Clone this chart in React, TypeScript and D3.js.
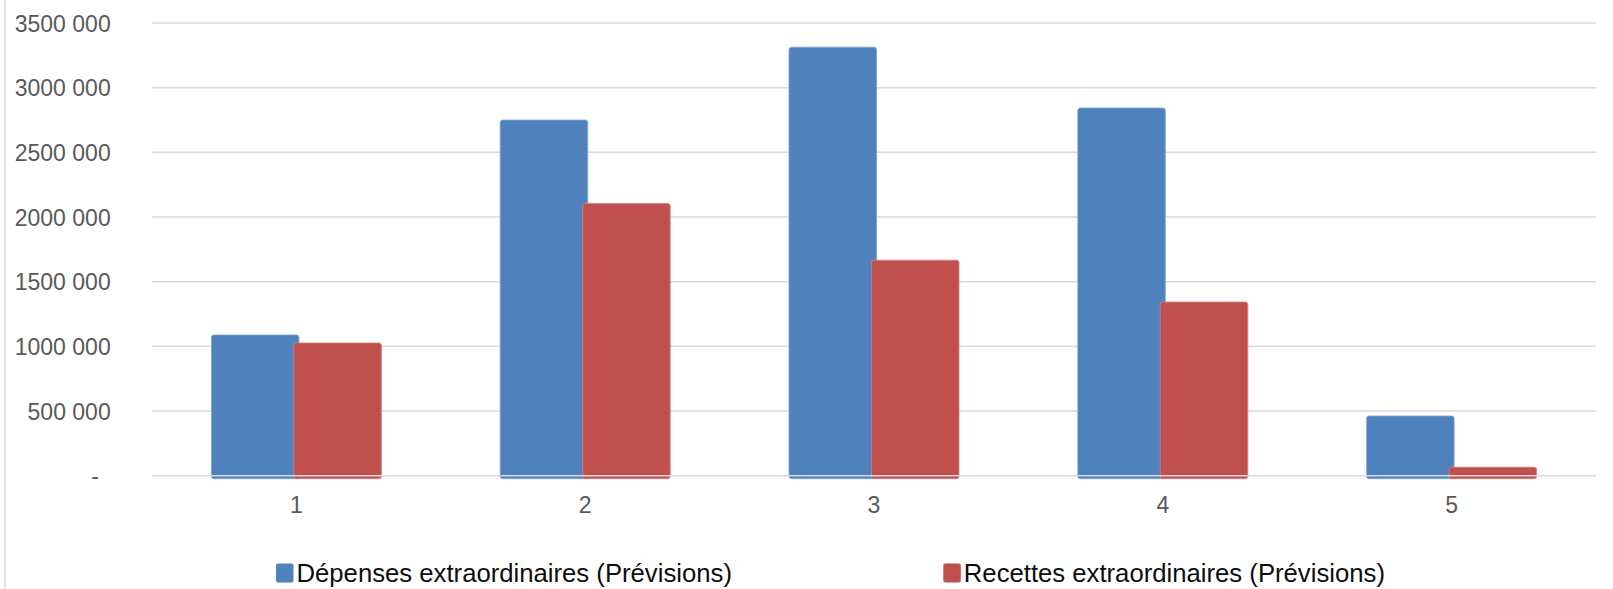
import React from "react";
import * as d3 from "d3";

const categories = ["1", "2", "3", "4", "5"];
const depenses = [1088000, 2750000, 3313000, 2843000, 462000];
const recettes = [1026000, 2105000, 1666000, 1343000, 66000];
const seriesNames = [
  "Dépenses extraordinaires (Prévisions)",
  "Recettes extraordinaires (Prévisions)",
];
const seriesColors = ["#4F81BD", "#C0504D"];
const seriesStrokes = ["#7fa3d1", "#d07f7d"];
const yTicks = [0, 500000, 1000000, 1500000, 2000000, 2500000, 3000000, 3500000];
const yTickLabels = ["-", "500 000", "1000 000", "1500 000", "2000 000", "2500 000", "3000 000", "3500 000"];

const W = 1613;
const H = 589;

export default function App() {
  const x0 = d3.scaleBand<string>().domain(categories).range([152, 1596]).padding(0);
  const y = d3.scaleLinear().domain([0, 3500000]).range([475.7, 23]);
  const x1 = d3.scaleBand<number>().domain([0, 1]).range([-85, 85]);
  const barW = 87.5;
  const data = [depenses, recettes];
  const font = "'Liberation Sans', Arial, sans-serif";

  return (
    <svg
      width={W}
      height={H}
      style={{ position: "absolute", left: 0, top: 0, background: "#fff" }}
      fontFamily={font}
    >
      <rect x={0} y={0} width={W} height={H} fill="#fff" />
      <line x1={5} x2={5} y1={0} y2={H} stroke="#d9d9d9" strokeWidth={1.5} />
      {yTicks.map((t, i) =>
        t === 0 ? null : (
          <line key={"g" + i} x1={152} x2={1596} y1={y(t)} y2={y(t)} stroke="#d9d9d9" strokeWidth={1.5} />
        )
      )}
      {yTicks.map((t, i) => (
        <text
          key={"yl" + i}
          x={t === 0 ? 99 : 110.7}
          y={y(t) + 8.5}
          textAnchor="end"
          fontSize={23}
          fill="#595959"
        >
          {yTickLabels[i]}
        </text>
      ))}
      {data.map((vals, s) =>
        vals.map((v, i) => {
          const cx = (x0(categories[i]) as number) + x0.bandwidth() / 2;
          const bx = cx + (x1(s) as number) - (s === 1 ? 2.5 : 0);
          const top = y(v);
          const bottom = y(0) + 3;
          return (
            <rect
              key={s + "-" + i}
              x={bx}
              y={top}
              width={barW}
              height={bottom - top}
              rx={2.5}
              fill={seriesColors[s]}
              stroke={seriesStrokes[s]}
              strokeWidth={0.8}
            />
          );
        })
      )}
      <line x1={152} x2={1596} y1={y(0)} y2={y(0)} stroke="#d9d9d9" strokeWidth={1.5} />
      {categories.map((c) => (
        <text
          key={"xl" + c}
          x={(x0(c) as number) + x0.bandwidth() / 2}
          y={512.7}
          textAnchor="middle"
          fontSize={23}
          fill="#595959"
        >
          {c}
        </text>
      ))}
      {seriesNames.map((n, s) => {
        const lx = s === 0 ? 276 : 943.3;
        return (
          <g key={"lg" + s}>
            <rect x={lx} y={563.5} width={17.5} height={19} rx={2} fill={seriesColors[s]} />
            <text x={lx + 20.5} y={581.7} fontSize={25.7} fill="#0d0d0d">
              {n}
            </text>
          </g>
        );
      })}
    </svg>
  );
}
